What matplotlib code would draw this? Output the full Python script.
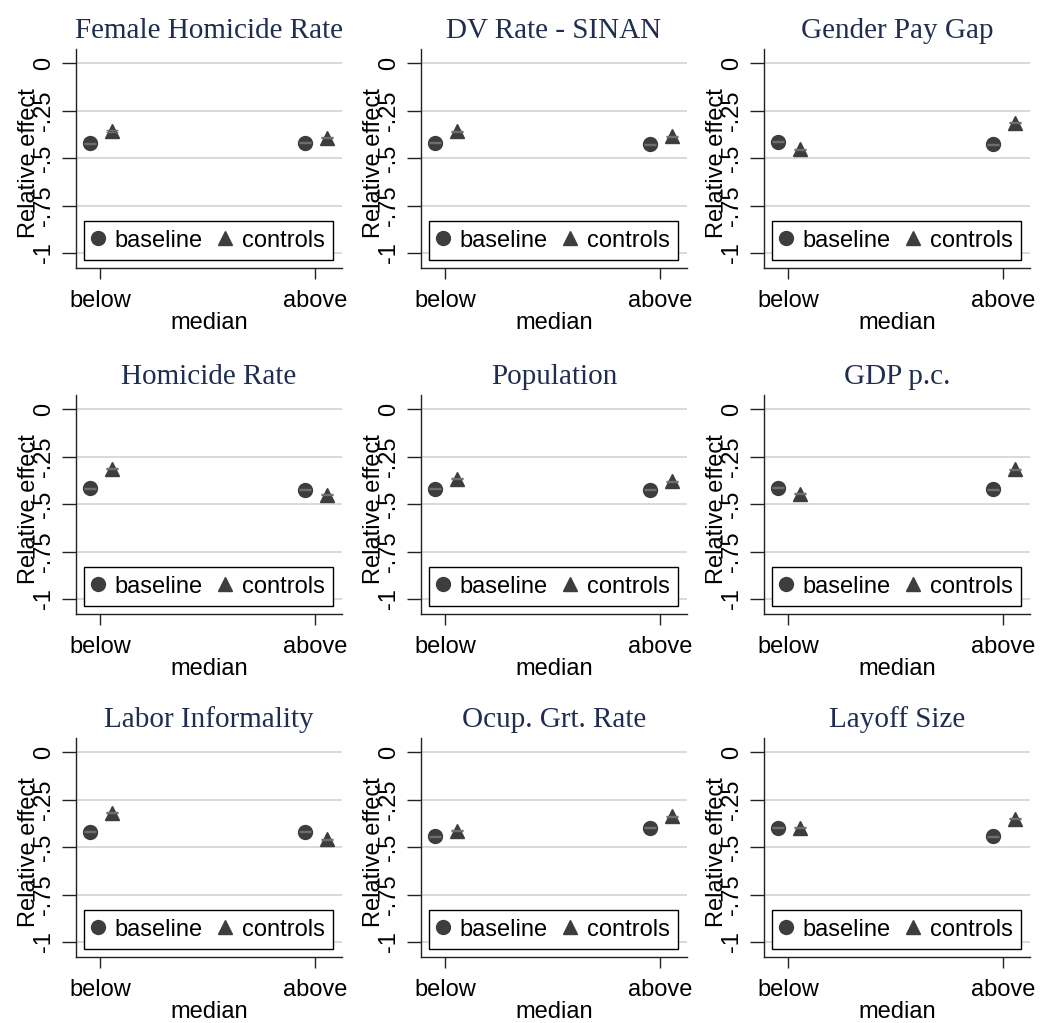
import matplotlib
matplotlib.use("Agg")
import matplotlib.pyplot as plt
from matplotlib.lines import Line2D

titles = ["Female Homicide Rate", "DV Rate - SINAN", "Gender Pay Gap",
          "Homicide Rate", "Population", "GDP p.c.",
          "Labor Informality", "Ocup. Grt. Rate", "Layoff Size"]

groups = ["below", "above"]

baseline_below = [-0.423, -0.420, -0.414, -0.416, -0.420, -0.414, -0.420, -0.443, -0.398]
baseline_above = [-0.420, -0.427, -0.428, -0.425, -0.425, -0.423, -0.420, -0.398, -0.443]
controls_below = [-0.358, -0.360, -0.455, -0.313, -0.367, -0.446, -0.320, -0.414, -0.398]
controls_above = [-0.393, -0.385, -0.315, -0.450, -0.381, -0.316, -0.460, -0.339, -0.350]

# confidence half-widths are tiny, they only show as a cap line inside the marker
ci_half = 0.003

yticks = [0, -0.25, -0.5, -0.75, -1]
ytick_labels = ["0", "-.25", "-.5", "-.75", "-1"]

W, H = 1040, 1023
col_left = [76, 421, 764]
row_top = [49, 395, 738]
ax_w, ax_h = 266, 219

mark_col = "#3d3d3d"
title_col = "#1f2d50"
sans = ["Liberation Sans", "DejaVu Sans"]
serif = ["Liberation Serif", "DejaVu Serif"]
fs = 17

fig = plt.figure(figsize=(W / 100, H / 100), dpi=100)
fig.patch.set_facecolor("white")

for i, title in enumerate(titles):
    r, c = divmod(i, 3)
    ax = fig.add_axes([col_left[c] / W, (H - row_top[r] - ax_h) / H, ax_w / W, ax_h / H])

    xb = [0 - 0.045, 1 - 0.045]
    xc = [0 + 0.055, 1 + 0.055]
    yb = [baseline_below[i], baseline_above[i]]
    yc = [controls_below[i], controls_above[i]]

    ax.plot(xb, yb, "o", color=mark_col, markersize=10, linestyle="none", zorder=3)
    ax.plot(xc, yc, "^", color=mark_col, markersize=10, linestyle="none", zorder=3)
    ax.errorbar(xb, yb, yerr=ci_half, fmt="none", ecolor="#6e6e6e", capsize=4, elinewidth=1, zorder=4)
    ax.errorbar(xc, yc, yerr=ci_half, fmt="none", ecolor="#6e6e6e", capsize=4, elinewidth=1, zorder=4)

    ax.set_xlim(-0.112, 1.126)
    ax.set_ylim(-1.079, 0.074)

    ax.set_yticks(yticks)
    ax.set_yticklabels(ytick_labels, rotation=90, va="center", family=sans, fontsize=fs)
    ax.set_xticks([0, 1])
    ax.set_xticklabels(groups, family=sans, fontsize=fs)
    ax.tick_params(axis="y", length=10, width=1, pad=5, color="#222222")
    ax.tick_params(axis="x", length=8, width=1, pad=8, color="#222222")

    ax.grid(axis="y", color="#d9d9d9", linewidth=1.4)
    ax.set_axisbelow(True)
    for s in ["top", "right"]:
        ax.spines[s].set_visible(False)
    for s in ["left", "bottom"]:
        ax.spines[s].set_linewidth(1)
        ax.spines[s].set_color("#222222")

    ax.set_title(title, family=serif, fontsize=21, color=title_col, pad=8)
    ax.set_ylabel("Relative effect", family=sans, fontsize=fs, va="center")
    ax.yaxis.set_label_coords(-0.175, 0.48)
    ax.set_xlabel("median", family=sans, fontsize=fs, labelpad=0)

    handles = [Line2D([], [], marker="o", color=mark_col, linestyle="none", markersize=10),
               Line2D([], [], marker="^", color=mark_col, linestyle="none", markersize=10)]
    leg = ax.legend(handles, ["baseline", "controls"], ncol=2, loc="lower left",
                    bbox_to_anchor=(0.03, 0.0365, 0.936, 0.196), mode="expand",
                    borderaxespad=0, fancybox=False, handlelength=0.5, handletextpad=0.45,
                    columnspacing=0.8, borderpad=0.35,
                    prop={"family": sans, "size": fs})
    leg.get_frame().set_edgecolor("black")
    leg.get_frame().set_linewidth(1)
    leg.get_frame().set_alpha(1)

fig.savefig("out.png", dpi=100)
